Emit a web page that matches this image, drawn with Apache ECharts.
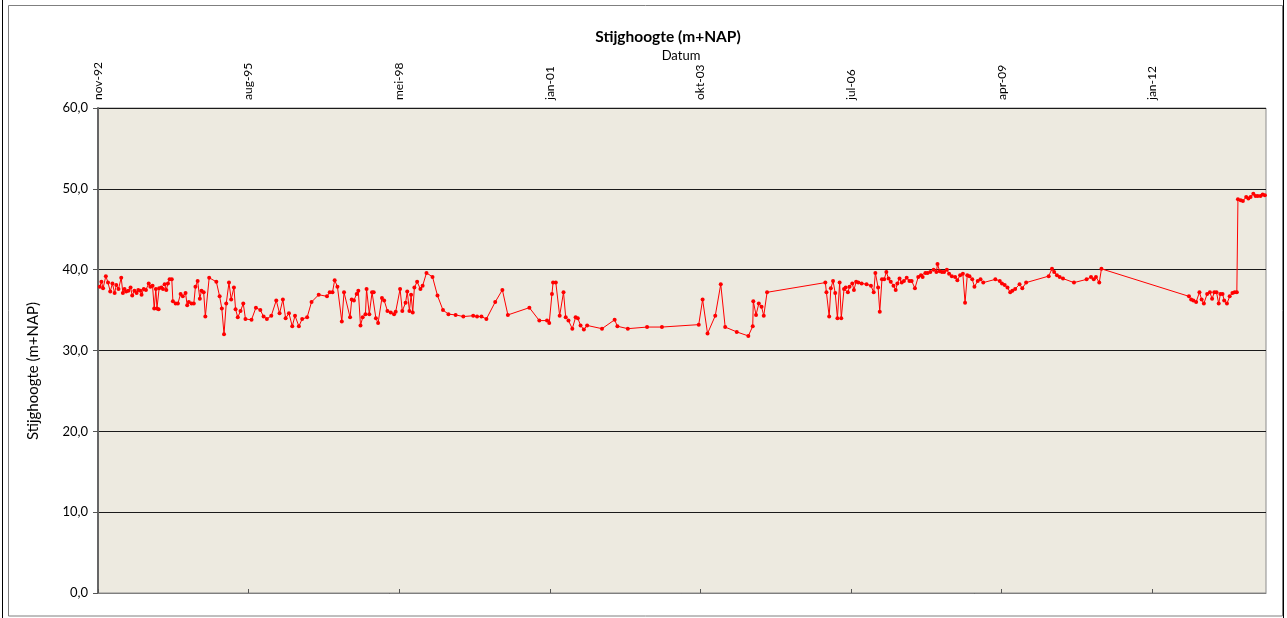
<!DOCTYPE html>
<html>
<head>
<meta charset="utf-8">
<script src="https://cdn.jsdelivr.net/npm/echarts@6/dist/echarts.min.js"></script>
<style>html,body{margin:0;padding:0;background:#fff;}#c{width:1287px;height:618px;}</style>
</head>
<body>
<div id="c"></div>
<script>
// Measurement dates (decimal years) and groundwater level (m+NAP)
const dates = [
1992.89,1992.92,1992.95,1993.00,1993.04,1993.08,1993.12,1993.16,1993.19,1993.23,
1993.28,1993.31,1993.34,1993.37,1993.41,1993.45,1993.48,1993.52,1993.56,1993.59,
1993.63,1993.65,1993.69,1993.73,1993.78,1993.81,1993.85,1993.88,1993.91,1993.93,
1993.96,1993.97,1994.01,1994.04,1994.07,1994.10,1994.13,1994.16,1994.20,1994.22,
1994.27,1994.31,1994.36,1994.40,1994.45,1994.48,1994.51,1994.56,1994.60,1994.63,
1994.67,1994.71,1994.74,1994.78,1994.81,1994.88,1995.01,1995.07,1995.11,1995.15,
1995.19,1995.24,1995.28,1995.33,1995.36,1995.40,1995.45,1995.50,1995.54,1995.65,
1995.73,1995.81,1995.87,1995.93,1996.01,1996.10,1996.16,1996.22,1996.27,1996.33,
1996.39,1996.44,1996.51,1996.57,1996.66,1996.74,1996.87,1997.02,1997.07,1997.12,
1997.16,1997.21,1997.29,1997.33,1997.44,1997.47,1997.51,1997.56,1997.59,1997.63,
1997.67,1997.72,1997.74,1997.79,1997.84,1997.87,1997.91,1997.95,1998.02,1998.06,
1998.12,1998.18,1998.24,1998.27,1998.35,1998.39,1998.45,1998.48,1998.52,1998.55,
1998.58,1998.61,1998.66,1998.72,1998.76,1998.83,1998.94,1999.03,1999.13,1999.23,
1999.36,1999.50,1999.68,1999.75,1999.83,1999.92,2000.08,2000.21,2000.31,2000.70,
2000.88,2001.02,2001.06,2001.11,2001.13,2001.18,2001.25,2001.32,2001.36,2001.41,
2001.48,2001.54,2001.58,2001.63,2001.69,2001.75,2002.02,2002.25,2002.30,2002.49,
2002.84,2003.11,2003.78,2003.85,2003.94,2004.08,2004.18,2004.26,2004.47,2004.68,
2004.76,2004.77,2004.82,2004.87,2004.92,2004.96,2005.02,2006.08,2006.10,2006.15,
2006.18,2006.22,2006.26,2006.30,2006.34,2006.37,2006.42,2006.45,2006.49,2006.52,
2006.57,2006.60,2006.64,2006.68,2006.74,2006.83,2006.91,2006.96,2006.99,2007.04,
2007.07,2007.11,2007.15,2007.19,2007.23,2007.27,2007.32,2007.36,2007.39,2007.43,
2007.47,2007.51,2007.56,2007.61,2007.65,2007.71,2007.77,2007.82,2007.85,2007.90,
2007.94,2007.99,2008.05,2008.10,2008.12,2008.16,2008.20,2008.24,2008.29,2008.33,
2008.38,2008.44,2008.48,2008.53,2008.58,2008.62,2008.66,2008.70,2008.75,2008.79,
2008.85,2008.90,2008.95,2009.17,2009.25,2009.29,2009.34,2009.39,2009.44,2009.48,
2009.53,2009.61,2009.66,2009.73,2010.14,2010.20,2010.24,2010.29,2010.34,2010.40,
2010.60,2010.83,2010.91,2010.96,2011.00,2011.06,2011.10,2012.69,2012.73,2012.77,
2012.82,2012.88,2012.92,2012.96,2013.02,2013.07,2013.11,2013.15,2013.19,2013.23,
2013.26,2013.30,2013.33,2013.38,2013.43,2013.48,2013.52,2013.56,2013.58,2013.63,
2013.67,2013.73,2013.77,2013.81,2013.86,2013.90,2013.94,2013.99,2014.03,2014.07
];
const levels = [
37.9,38.5,37.7,39.2,38.4,37.3,38.3,37.1,38.1,37.6,
39.0,37.1,37.6,37.3,37.4,37.8,36.8,37.4,37.1,37.5,
37.4,36.9,37.6,37.5,38.3,37.9,38.0,35.2,37.6,35.2,
35.1,37.7,37.8,37.6,38.2,37.5,38.3,38.8,38.8,36.1,
35.8,35.8,37.0,36.7,37.1,35.6,36.0,35.8,35.8,37.9,
38.6,36.4,37.4,37.2,34.2,39.0,38.5,36.7,35.2,32.0,
35.8,38.4,36.3,37.8,35.1,34.1,34.9,35.8,33.9,33.8,
35.3,35.0,34.2,33.9,34.3,36.2,34.6,36.3,34.0,34.6,
33.0,34.3,33.0,33.9,34.1,36.0,36.9,36.7,37.2,37.2,
38.7,37.9,33.6,37.2,34.1,36.3,36.2,37.0,37.4,33.1,
34.1,34.5,37.6,34.5,37.2,37.2,34.0,33.4,36.5,36.2,
34.9,34.7,34.5,34.8,37.6,34.9,35.9,37.3,34.9,36.9,
34.7,37.8,38.5,37.6,38.0,39.6,39.1,36.8,35.0,34.5,
34.4,34.2,34.3,34.2,34.2,33.9,36.0,37.5,34.4,35.3,
33.7,33.7,33.4,37.0,38.4,38.4,34.3,37.2,34.1,33.7,
32.7,34.1,34.0,33.1,32.6,33.1,32.7,33.8,33.0,32.7,
32.9,32.9,33.2,36.3,32.1,34.3,38.2,32.9,32.3,31.8,
33.0,36.1,34.4,35.8,35.4,34.3,37.2,38.4,37.2,34.2,
37.7,38.6,37.1,34.0,38.4,34.0,37.6,37.8,37.2,37.9,
38.3,37.5,38.5,38.4,38.3,38.2,38.0,37.2,39.6,37.8,
34.8,38.8,38.8,39.7,38.9,38.5,38.0,37.5,38.3,38.9,
38.4,38.6,39.0,38.6,38.6,37.7,39.1,39.3,39.1,39.6,
39.6,39.7,40.0,39.7,40.7,39.8,39.7,39.7,40.0,39.5,
39.2,39.1,38.7,39.3,39.5,35.9,39.3,39.2,38.8,37.9,
38.6,38.8,38.4,38.8,38.6,38.3,38.1,37.8,37.2,37.4,
37.6,38.2,37.7,38.4,39.2,40.1,39.7,39.3,39.1,38.9,
38.4,38.8,39.1,38.8,39.1,38.4,40.1,36.7,36.3,36.2,
36.0,37.2,36.3,35.8,37.0,37.2,36.4,37.2,37.2,35.8,
37.0,37.0,36.2,35.8,36.7,37.1,37.2,37.2,48.7,48.6,
48.5,49.0,48.8,49.0,49.4,49.1,49.1,49.1,49.3,49.2
];
const xTickDays = [0,1000,2000,3000,4000,5000,6000,7000];
const yTicks = [0,10,20,30,40,50,60];
const monthNames = ['jan','feb','mrt','apr','mei','jun','jul','aug','sep','okt','nov','dec'];

const ORIGIN = Date.UTC(1992,10,10);
const DAY = 86400000;
function toDays(t){
  const y = Math.floor(t), f = t - y;
  const a = Date.UTC(y,0,1), b = Date.UTC(y+1,0,1);
  return (a + f*(b-a) - ORIGIN)/DAY;
}
function dayLabel(d){
  const dt = new Date(ORIGIN + d*DAY);
  return monthNames[dt.getUTCMonth()] + '-' + String(dt.getUTCFullYear()%100).padStart(2,'0');
}
const seriesData = dates.map((t,i)=>[toDays(t), levels[i]]);
const FONT = 'Lato, "Open Sans", sans-serif';

const chart = echarts.init(document.getElementById('c'), null, {renderer:'canvas'});
chart.setOption({
  animation:false,
  backgroundColor:'#ffffff',
  textStyle:{fontFamily:FONT},
  title:[
    {text:'Stijghoogte (m+NAP)', left:663, top:24, textAlign:'center',
     textStyle:{fontSize:15.5, fontWeight:'bold', color:'#000', fontFamily:FONT}},
    {text:'Datum', left:676, top:44, textAlign:'center',
     textStyle:{fontSize:13, fontWeight:'normal', color:'#000', fontFamily:FONT}}
  ],
  graphic:[
    {type:'rect', silent:true, shape:{x:8.5,y:5.5,width:1274,height:610.5},
     style:{fill:'none', stroke:'#7f7f7f', lineWidth:1}},
    {type:'line', silent:true, shape:{x1:2.5,y1:0,x2:2.5,y2:618}, style:{stroke:'#000',lineWidth:1}},
    {type:'line', silent:true, shape:{x1:1283.5,y1:0,x2:1283.5,y2:618}, style:{stroke:'#000',lineWidth:1}},
    {type:'text', silent:true, x:26, y:371, rotation:Math.PI/2,
     style:{text:'Stijghoogte (m+NAP)', fill:'#000', font:'15px ' + FONT,
            align:'center', verticalAlign:'top'}}
  ],
  grid:{left:98, top:108, right:21, bottom:25, show:true, backgroundColor:'#EDEAE0',
        borderColor:'#8c8c8c', borderWidth:1},
  xAxis:{
    type:'value', position:'top', min:0, max:7755, interval:1000,
    axisLine:{show:true, lineStyle:{color:'#7f7f7f', width:1}},
    axisTick:{show:true, length:4, inside:false, customValues:xTickDays, lineStyle:{color:'#555'}},
    splitLine:{show:false},
    axisLabel:{rotate:90, margin:8, fontSize:12, color:'#000', fontFamily:FONT,
               customValues:xTickDays, formatter:(v)=>dayLabel(v)}
  },
  yAxis:{
    type:'value', min:0, max:60, interval:10,
    axisLine:{show:true, lineStyle:{color:'#666', width:2}},
    axisTick:{show:true, length:5, lineStyle:{color:'#555'}},
    splitLine:{show:true, lineStyle:{color:'#1a1a1a', width:1}},
    axisLabel:{fontSize:13, color:'#000', margin:10, fontFamily:FONT,
               formatter:(v)=>v.toFixed(1).replace('.',',')}
  },
  series:[{
    type:'line', data:seriesData, showSymbol:true, symbol:'circle', symbolSize:4,
    lineStyle:{color:'#ff0000', width:1},
    itemStyle:{color:'#ff0000'},
    clip:false
  }]
});
</script>
</body>
</html>
